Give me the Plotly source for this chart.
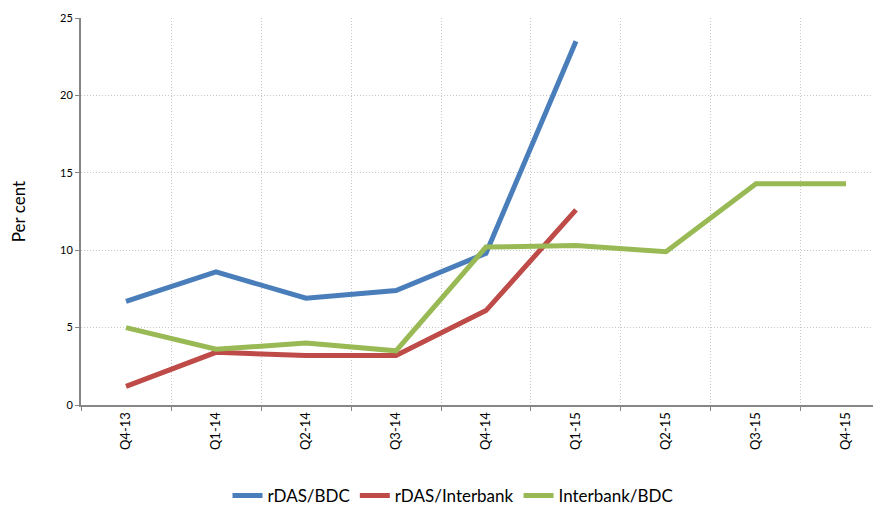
import plotly.graph_objects as go

quarters = ["Q4-13", "Q1-14", "Q2-14", "Q3-14", "Q4-14", "Q1-15", "Q2-15", "Q3-15", "Q4-15"]
rdas_bdc = [6.7, 8.6, 6.9, 7.4, 9.8, 23.5]
rdas_interbank = [1.2, 3.4, 3.2, 3.2, 6.1, 12.6]
interbank_bdc = [5.0, 3.6, 4.0, 3.5, 10.2, 10.3, 9.9, 14.3, 14.3]

series = [
    ("rDAS/BDC", rdas_bdc, "#4a7ebb"),
    ("rDAS/Interbank", rdas_interbank, "#be4b48"),
    ("Interbank/BDC", interbank_bdc, "#98b954"),
]

fig = go.Figure()
for name, vals, color in series:
    fig.add_trace(go.Scatter(
        x=quarters[:len(vals)],
        y=vals,
        mode="lines",
        name=name,
        line=dict(color=color, width=5),
    ))

font = "Lato, Calibri, 'Open Sans', sans-serif"
fig.update_layout(
    width=873,
    height=506,
    margin=dict(l=73, r=0, t=10, b=99),
    plot_bgcolor="white",
    paper_bgcolor="white",
    font=dict(family=font, color="#000000"),
    showlegend=True,
    legend=dict(
        orientation="h",
        x=0.465,
        xanchor="center",
        y=-0.19,
        yanchor="top",
        font=dict(size=17),
    ),
)
fig.update_xaxes(
    type="category",
    categoryorder="array",
    categoryarray=quarters,
    range=[-0.5, 8.389],
    tickson="boundaries",
    ticks="outside",
    ticklen=4,
    tickcolor="#868686",
    tickangle=-90,
    tickfont=dict(size=13),
    showline=True,
    linecolor="#868686",
    linewidth=2,
    showgrid=True,
    gridcolor="#c8c8c8",
    griddash="1px,2px",
    gridwidth=1,
    automargin=False,
)
fig.update_yaxes(
    range=[0, 25],
    dtick=5,
    ticks="outside",
    ticklen=4,
    tickcolor="#868686",
    tickfont=dict(size=11),
    showline=True,
    linecolor="#868686",
    linewidth=2,
    showgrid=True,
    gridcolor="#c8c8c8",
    griddash="1px,2px",
    gridwidth=1,
    zeroline=False,
    automargin=False,
    title=dict(text="Per cent", font=dict(size=17), standoff=40),
)

fig.write_html("out.html")
